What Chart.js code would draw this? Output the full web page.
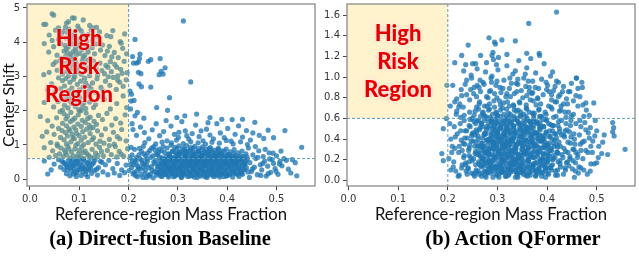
<!DOCTYPE html>
<html><head><meta charset="utf-8">
<script src="https://cdn.jsdelivr.net/npm/chart.js@4"></script>
<style>
html,body{margin:0;padding:0;background:#fff;width:639px;height:258px;overflow:hidden;position:relative;font-family:Lato,sans-serif}
canvas{position:absolute;top:0}
#ca{left:0}#cb{left:320px}
.risk{position:absolute;color:#e30000;font:900 22px Lato,"Liberation Sans",sans-serif;text-align:center;line-height:28px;text-shadow:0 0 2px #fff,0 0 5px rgba(255,190,190,.9)}
.ytitle{position:absolute;font:16px Lato,sans-serif;color:#111;transform:rotate(-90deg);transform-origin:center;white-space:nowrap;line-height:20px}
.cap{position:absolute;font:bold 20.5px "Liberation Serif","Times New Roman",serif;color:#000;white-space:nowrap;transform:translateX(-50%)}
</style></head><body>
<canvas id="ca" width="320" height="258"></canvas>
<canvas id="cb" width="319" height="258"></canvas>
<div class="risk" style="left:36px;top:24px;width:86px">High<br>Risk<br>Region</div>
<div class="risk" style="left:355px;top:19px;width:86px">High<br>Risk<br>Region</div>
<div class="ytitle" style="left:-40px;top:95px;width:96px;text-align:center">Center Shift</div>
<div class="cap" style="left:160px;top:227px">(a) Direct-fusion Baseline</div>
<div class="cap" style="left:513px;top:227px">(b) Action QFormer</div>
<script>
// ---- thresholds / ticks ----
const X_THRESH = 0.2;
const Y_THRESH = 0.6;
const xTicks = [0.0, 0.1, 0.2, 0.3, 0.4, 0.5];
const yTicksA = [0, 1, 2, 3, 4, 5];
const yTicksB = [0.0, 0.2, 0.4, 0.6, 0.8, 1.0, 1.2, 1.4, 1.6];
const xTitle = "Reference-region Mass Fraction";

// ---- (a) Direct-fusion Baseline: points ----
const baselineLeft = [
[.045,4.83],[.048,4.79],[.086,4.71],[.108,4.65],[.028,4.52],[.074,4.56],[.097,4.47],[.121,4.49],[.058,4.42],[.135,4.43],[.032,4.52],[.078,4.6],[.09,4.7],[.128,4.42],[.164,4.16],
[.052,4.35],[.067,4.31],[.079,4.38],[.091,4.27],[.104,4.33],[.118,4.22],[.061,4.18],[.073,4.12],[.085,4.21],[.096,4.09],[.11,4.15],[.127,4.05],[.141,4.3],[.156,4.19],[.168,4.34],[.039,4.21],[.045,4.05],[.082,4.02],[.064,4.25],[.099,4.39],[.115,4.02],[.133,4.16],[.076,4.28],[.088,4.14],[.183,4.02],[.192,4.24],[.058,4.08],[.107,4.22],[.072,4.43],[.124,4.36],
[.062,3.97],[.071,3.91],[.078,3.86],[.084,3.95],[.092,3.82],[.099,3.9],[.105,3.78],[.113,3.93],[.069,3.74],[.076,3.69],[.087,3.72],[.094,3.63],[.101,3.67],[.108,3.56],[.118,3.71],[.126,3.84],[.134,3.95],[.143,3.77],[.152,3.61],[.161,3.88],[.171,3.7],[.179,3.55],[.188,3.82],[.196,3.66],[.048,3.87],[.055,3.62],[.038,3.71],[.064,3.53],[.081,3.58],[.089,3.51],[.097,3.98],[.111,3.62],[.122,3.52],[.131,3.66],[.147,3.92],[.157,3.74],[.166,3.57],[.074,3.81],[.083,3.64],[.093,3.76],[.103,3.88],[.116,3.8],[.072,3.58],[.029,3.96],[.185,3.97],
[.061,3.46],[.068,3.38],[.077,3.44],[.085,3.33],[.093,3.41],[.101,3.28],[.109,3.36],[.117,3.47],[.125,3.31],[.134,3.22],[.142,3.39],[.151,3.08],[.158,3.27],[.165,3.14],[.172,3.35],[.178,3.02],[.184,3.21],[.191,3.44],[.197,3.11],[.047,3.35],[.039,3.12],[.028,3.05],[.055,3.18],[.066,3.07],[.074,3.15],[.082,3.21],[.089,3.04],[.097,3.13],[.104,3.06],[.113,3.18],[.121,3.02],[.129,3.45],[.146,3.17],[.163,3.43],[.176,3.27],[.187,3.09],[.072,3.29],[.086,3.49],[.095,3.24],[.106,3.46],[.052,3.42],[.137,3.04],[.154,3.32],[.118,3.25],[.078,3.01],
[.058,2.96],[.066,2.88],[.073,2.94],[.081,2.83],[.088,2.91],[.096,2.77],[.103,2.86],[.111,2.95],[.119,2.72],[.127,2.81],[.136,2.93],[.144,2.68],[.153,2.86],[.162,2.74],[.169,2.97],[.175,2.62],[.182,2.83],[.189,2.71],[.195,2.9],[.044,2.78],[.036,2.61],[.051,2.55],[.062,2.64],[.07,2.72],[.078,2.58],[.085,2.66],[.093,2.52],[.1,2.61],[.108,2.69],[.116,2.56],[.124,2.64],[.133,2.53],[.148,2.57],[.159,2.99],[.067,2.51],[.091,2.99],[.113,2.81],[.178,2.89],
[.064,2.47],[.072,2.41],[.079,2.35],[.087,2.44],[.094,2.29],[.101,2.38],[.109,2.22],[.116,2.46],[.124,2.31],[.133,2.18],[.141,2.42],[.07,2.16],[.077,2.08],[.085,2.21],[.092,2.12],[.099,2.03],[.106,2.14],[.113,2.06],[.121,2.25],[.057,2.27],[.048,2.11],[.151,2.34],[.163,2.05],[.176,2.21],[.189,2.43],[.196,2.09],[.081,2.28],[.096,2.49],[.104,2.01],[.129,2.09],[.066,2.02],[.029,2.24],
[.061,1.97],[.069,1.91],[.076,1.84],[.083,1.95],[.091,1.78],[.098,1.88],[.106,1.72],[.114,1.93],[.122,1.81],[.13,1.69],[.139,1.86],[.147,1.74],[.066,1.63],[.074,1.56],[.082,1.68],[.089,1.52],[.097,1.61],[.104,1.54],[.112,1.66],[.12,1.58],[.128,1.51],[.054,1.79],[.045,1.55],[.036,1.71],[.021,1.83],[.156,1.92],[.166,1.58],[.174,1.77],[.184,1.64],[.193,1.88],[.087,1.73],[.101,1.99],[.117,1.77],[.073,1.76],[.135,1.6],
[.058,1.48],[.065,1.42],[.072,1.36],[.079,1.47],[.086,1.31],[.093,1.44],[.1,1.27],[.107,1.39],[.115,1.46],[.122,1.33],[.129,1.21],[.137,1.41],[.145,1.29],[.153,1.47],[.161,1.16],[.169,1.37],[.177,1.24],[.186,1.45],[.195,1.12],[.062,1.22],[.069,1.15],[.076,1.26],[.083,1.09],[.09,1.18],[.097,1.04],[.104,1.14],[.111,1.23],[.118,1.07],[.126,1.15],[.134,1.02],[.142,1.11],[.049,1.31],[.042,1.07],[.034,1.38],[.025,1.25],[.055,1.02],[.081,1.41],[.095,1.33],[.109,1.01],[.123,1.49],[.15,1.05],[.171,1.02],[.182,1.18],[.074,1.03],[.087,1.21],
[.056,.97],[.063,.91],[.07,.85],[.077,.96],[.084,.79],[.091,.88],[.098,.73],[.105,.94],[.112,.82],[.119,.69],[.126,.87],[.133,.76],[.141,.93],[.149,.68],[.157,.84],[.165,.72],[.173,.95],[.181,.81],[.19,.67],[.198,.89],[.06,.74],[.067,.66],[.074,.71],[.081,.62],[.088,.68],[.095,.63],[.102,.66],[.109,.61],[.116,.74],[.123,.64],[.13,.63],[.138,.69],[.046,.83],[.039,.64],[.029,.92],[.052,.69],[.079,.88],[.093,.99],[.108,.78],[.145,.81],[.161,.98],[.176,.65],[.185,.73],[.072,.78],[.1,.84],
[.058,.57],[.065,.52],[.071,.45],[.078,.55],[.084,.48],[.09,.41],[.096,.53],[.102,.46],[.108,.58],[.114,.38],[.12,.51],[.126,.43],[.132,.56],[.139,.34],[.146,.49],[.153,.42],[.16,.55],[.168,.31],[.177,.46],[.186,.27],[.195,.41],[.062,.35],[.069,.28],[.076,.36],[.083,.24],[.089,.31],[.095,.19],[.101,.29],[.107,.22],[.113,.14],[.119,.27],[.125,.17],[.131,.25],[.137,.12],[.074,.16],[.081,.1],[.088,.15],[.094,.08],[.104,.11],[.111,.3],[.117,.07],[.049,.44],[.043,.27],[.036,.15],[.029,.53],[.148,.21],[.158,.13],[.171,.18],[.182,.11],[.192,.19],[.086,.39],[.099,.36],[.068,.49],[.123,.31],[.143,.52],
[.08,.44],[.092,.5],[.105,.4],[.117,.47],[.087,.56],[.1,.58],[.111,.52],[.076,.29],[.097,.26],[.083,.34],[.107,.33],[.121,.38],[.091,.21],[.114,.24],[.129,.48],[.073,.42],[.095,.45],[.135,.29]
];
const baselineRight = [
[.311,4.62],[.213,4.08],[.208,3.58],[.223,3.65],[.21,3.39],[.216,3.39],[.22,3.42],[.222,3.52],[.24,3.44],[.245,3.49],[.264,3.52],[.22,3.12],[.225,3.08],[.262,3.05],[.266,3.15],[.27,3.07],[.274,3.25],[.326,2.84],[.221,2.78],[.226,2.7],[.245,2.69],[.206,2.48],[.203,2.57],[.283,2.38],[.205,2.28],[.211,2.3],[.257,2.09],[.279,2.01],[.231,1.78],[.298,1.8],[.314,1.85],[.338,1.9],[.365,1.8],[.389,1.75],[.431,1.75],[.213,1.85],[.207,1.62],[.218,1.95],[.204,2.05],
[.209,1.45],[.216,1.28],[.224,1.52],[.232,1.36],[.241,1.18],[.248,1.44],[.256,1.62],[.263,1.27],[.271,1.39],[.278,1.12],[.286,1.55],[.293,1.31],[.301,1.22],[.308,1.68],[.315,1.41],[.322,1.17],[.329,1.33],[.336,1.58],[.343,1.24],[.351,1.12],[.358,1.46],[.365,1.29],[.372,1.18],[.379,1.62],[.386,1.35],[.394,1.21],[.401,1.48],[.408,1.11],[.416,1.31],[.423,1.56],[.431,1.23],[.439,1.42],[.447,1.14],[.456,1.66],[.465,1.28],[.474,1.19],[.483,1.43],[.494,1.21],[.517,1.42],[.287,1.06],[.297,1.14],[.311,1.04],[.326,1.09],[.341,1.06],[.356,1.02],[.369,1.08],[.384,1.05],[.398,1.13],[.412,1.03],[.427,1.09],[.441,1.01],[.268,1.08],[.255,1.03],[.233,1.07],[.302,1.37],[.347,1.41],[.276,1.71],[.361,1.65],[.452,1.35],[.318,1.27],[.41,1.74],
[.262,.88],[.259,.71],[.264,.55],[.261,.43],[.266,.31],[.258,.19],[.263,.64],[.265,.09],
[.27,.95],[.273,.78],[.268,.62],[.271,.49],[.274,.37],[.269,.26],[.272,.14],[.267,.83],[.275,.41],
[.278,.91],[.281,.74],[.276,.58],[.279,.46],[.282,.34],[.277,.22],[.28,.11],[.283,.67],[.276,.52],[.281,.29],
[.286,.99],[.289,.82],[.284,.66],[.287,.53],[.29,.41],[.285,.28],[.288,.17],[.291,.07],[.284,.6],[.289,.36],
[.294,.93],[.297,.77],[.292,.61],[.295,.48],[.298,.35],[.293,.24],[.296,.13],[.299,.7],[.292,.44],[.297,.56],
[.302,.97],[.305,.8],[.3,.64],[.303,.51],[.306,.39],[.301,.27],[.304,.15],[.307,.06],[.3,.58],[.305,.33],[.302,.73],
[.31,.9],[.313,.75],[.308,.59],[.311,.47],[.314,.36],[.309,.23],[.312,.12],[.315,.68],[.308,.42],[.313,.54],[.31,.18],
[.318,.98],[.321,.83],[.316,.67],[.319,.52],[.322,.4],[.317,.3],[.32,.2],[.323,.09],[.316,.61],[.321,.46],[.318,.76],
[.326,.92],[.329,.73],[.324,.57],[.327,.45],[.33,.32],[.325,.21],[.328,.1],[.331,.65],[.324,.5],[.329,.38],[.326,.85],
[.334,.96],[.337,.79],[.332,.63],[.335,.49],[.338,.37],[.333,.25],[.336,.14],[.339,.05],[.332,.56],[.337,.43],[.334,.7],
[.342,.89],[.345,.72],[.34,.6],[.343,.48],[.346,.35],[.341,.23],[.344,.12],[.347,.66],[.34,.53],[.345,.29],[.342,.81],
[.35,.94],[.353,.77],[.348,.62],[.351,.5],[.354,.39],[.349,.27],[.352,.16],[.355,.07],[.348,.57],[.353,.44],[.35,.69],
[.358,.87],[.361,.7],[.356,.55],[.359,.46],[.362,.34],[.357,.22],[.36,.11],[.363,.63],[.356,.4],[.361,.78],[.358,.51],
[.366,.92],[.369,.75],[.364,.59],[.367,.47],[.37,.36],[.365,.24],[.368,.13],[.371,.67],[.364,.53],[.369,.3],
[.374,.85],[.377,.69],[.372,.56],[.375,.43],[.378,.31],[.373,.19],[.376,.09],[.379,.62],[.372,.49],[.377,.77],
[.382,.9],[.385,.73],[.38,.58],[.383,.45],[.386,.33],[.381,.21],[.384,.12],[.387,.66],[.38,.52],[.385,.38],
[.39,.83],[.393,.67],[.388,.54],[.391,.41],[.394,.28],[.389,.17],[.392,.6],[.395,.47],[.388,.74],[.393,.08],
[.398,.88],[.401,.71],[.396,.57],[.399,.44],[.402,.32],[.397,.2],[.4,.11],[.403,.64],[.396,.5],
[.406,.8],[.409,.65],[.404,.52],[.407,.39],[.41,.27],[.405,.15],[.408,.59],[.411,.46],[.404,.72],
[.414,.86],[.417,.69],[.412,.55],[.415,.42],[.418,.3],[.413,.18],[.416,.61],[.419,.48],
[.422,.77],[.425,.62],[.42,.5],[.423,.37],[.426,.25],[.421,.14],[.424,.56],[.427,.68],
[.43,.82],[.433,.66],[.428,.53],[.431,.4],[.434,.28],[.429,.17],[.432,.6],[.435,.45],
[.438,.74],[.441,.58],[.436,.46],[.439,.33],[.442,.21],[.437,.52],[.44,.65],
[.203,.62],[.206,.34],[.209,.15],[.212,.87],[.215,.48],[.218,.07],[.221,.71],[.224,.29],[.227,.55],[.23,.96],[.233,.18],[.236,.41],[.239,.77],[.242,.09],[.245,.63],[.248,.26],[.251,.5],[.254,.85],[.257,.12],[.26,.38],[.205,.93],[.211,.42],[.217,.24],[.223,.59],[.229,.05],[.235,.68],[.241,.33],[.247,.91],[.253,.45],[.259,.2],[.208,.53],[.214,.11],[.226,.81],[.238,.52],[.25,.04],[.256,.73],[.232,.44],[.244,.15],[.219,.38],[.201,.25],
[.204,.44],[.207,.71],[.211,.2],[.216,.63],[.22,.33],[.225,.14],[.228,.47],[.231,.74],[.234,.27],[.237,.58],[.24,.12],[.243,.84],[.246,.37],[.249,.68],[.252,.21],[.255,.55],[.258,.31],[.261,.79],[.264,.16],[.267,.45],[.222,.9],[.236,.05],[.251,.95],[.213,.56],[.229,.35],
[.443,.91],[.446,.48],[.449,.22],[.452,.71],[.455,.35],[.458,.6],[.461,.13],[.464,.83],[.467,.42],[.47,.27],[.473,.66],[.476,.53],[.479,.09],[.482,.38],[.485,.77],[.488,.2],[.491,.57],[.494,.46],[.497,.31],[.5,.68],[.503,.14],[.507,.52],[.511,.39],[.515,.6],[.52,.55],[.524,.29],[.532,.57],[.538,.48],[.541,.1],[.551,.93],[.493,.76],[.445,.05],[.457,.95],[.468,.11],[.477,.87],[.486,.59],[.499,.23],[.509,.82],[.462,.64],[.451,.3],[.472,.46],[.483,.16],[.529,.18],[.506,.44]
];
const baselineCoreFill = [
[.268,.08],[.281,.06],[.294,.09],[.307,.05],[.32,.08],[.333,.06],[.346,.09],[.359,.05],[.372,.08],[.385,.06],[.398,.09],[.411,.06],[.424,.08],
[.262,.16],[.275,.14],[.288,.17],[.301,.13],[.314,.16],[.327,.14],[.34,.17],[.353,.13],[.366,.16],[.379,.14],[.392,.17],[.405,.13],[.418,.16],[.431,.14],
[.271,.23],[.284,.21],[.297,.24],[.31,.2],[.323,.23],[.336,.21],[.349,.24],[.362,.2],[.375,.23],[.388,.21],[.401,.24],[.414,.2],[.427,.23],
[.266,.3],[.279,.28],[.292,.31],[.305,.27],[.318,.3],[.331,.28],[.344,.31],[.357,.27],[.37,.3],[.383,.28],[.396,.31],[.409,.27],[.422,.3],[.435,.28],
[.273,.37],[.286,.35],[.299,.38],[.312,.34],[.325,.37],[.338,.35],[.351,.38],[.364,.34],[.377,.37],[.39,.35],[.403,.38],[.416,.34],[.429,.37],
[.267,.44],[.28,.42],[.293,.45],[.306,.41],[.319,.44],[.332,.42],[.345,.45],[.358,.41],[.371,.44],[.384,.42],[.397,.45],[.41,.41],[.423,.44],[.436,.42],
[.274,.51],[.287,.49],[.3,.52],[.313,.48],[.326,.51],[.339,.49],[.352,.52],[.365,.48],[.378,.51],[.391,.49],[.404,.52],[.417,.48],[.43,.51],
[.269,.58],[.282,.56],[.295,.59],[.308,.55],[.321,.58],[.334,.56],[.347,.59],[.36,.55],[.373,.58],[.386,.56],[.399,.59],[.412,.55],[.425,.58],
[.276,.65],[.289,.63],[.302,.66],[.315,.62],[.328,.65],[.341,.63],[.354,.66],[.367,.62],[.38,.65],[.393,.63],[.406,.66],[.419,.62],
[.283,.73],[.296,.71],[.309,.74],[.322,.7],[.335,.73],[.348,.71],[.361,.74],[.374,.7],[.387,.73],[.4,.71],[.413,.74],
[.29,.81],[.303,.79],[.316,.82],[.329,.78],[.342,.81],[.355,.79],[.368,.82],[.381,.78],[.394,.81],
[.298,.89],[.313,.87],[.331,.9],[.349,.86],[.364,.89],[.382,.87]
];

// ---- (b) Action QFormer: points ----
const qformerCore = [
[.215,.42],[.212,.18],[.218,.67],[.216,.09],[.214,.31],
[.225,.55],[.222,.27],[.228,.12],[.224,.74],[.227,.39],[.223,.05],[.226,.61],
[.235,.48],[.232,.22],[.238,.83],[.234,.35],[.237,.09],[.233,.63],[.236,.15],[.239,.41],[.231,.71],
[.245,.52],[.242,.29],[.248,.07],[.244,.66],[.247,.38],[.243,.18],[.246,.88],[.249,.45],[.241,.11],[.245,.59],[.243,.24],
[.255,.44],[.252,.21],[.258,.71],[.254,.33],[.257,.08],[.253,.57],[.256,.15],[.259,.92],[.251,.38],[.255,.26],[.253,.63],[.257,.49],[.254,.04],
[.265,.51],[.262,.28],[.268,.13],[.264,.76],[.267,.36],[.263,.06],[.266,.62],[.269,.19],[.261,.43],[.265,.97],[.263,.33],[.267,.55],[.264,.24],[.262,.69],
[.275,.46],[.272,.23],[.278,.81],[.274,.31],[.277,.09],[.273,.58],[.276,.17],[.279,.39],[.271,.66],[.275,.05],[.273,.27],[.277,.52],[.274,.72],[.272,.14],[.276,1.05],
[.285,.53],[.282,.3],[.288,.12],[.284,.74],[.287,.41],[.283,.2],[.286,.87],[.289,.35],[.281,.07],[.285,.61],[.283,.25],[.287,.46],[.284,.16],[.282,.68],[.286,.38],[.288,.95],
[.295,.43],[.292,.19],[.298,.65],[.294,.34],[.297,.06],[.293,.56],[.296,.27],[.299,.8],[.291,.14],[.295,.48],[.293,.37],[.297,.1],[.294,.71],[.292,.23],[.296,.59],[.298,1.12],
[.305,.5],[.302,.26],[.308,.11],[.304,.77],[.307,.39],[.303,.03],[.306,.62],[.309,.21],[.301,.45],[.305,.9],[.303,.32],[.307,.16],[.304,.57],[.302,.29],[.306,.68],[.308,.08],[.301,.41],
[.315,.47],[.312,.22],[.318,.69],[.314,.36],[.317,.09],[.313,.55],[.316,.17],[.319,.84],[.311,.31],[.315,.42],[.313,.13],[.317,.61],[.314,.26],[.312,.75],[.316,.04],[.318,.51],[.311,.35],
[.325,.54],[.322,.28],[.328,.14],[.324,.72],[.327,.4],[.323,.06],[.326,.64],[.329,.2],[.321,.49],[.325,.99],[.323,.33],[.327,.11],[.324,.58],[.322,.24],[.326,.81],[.328,.45],[.321,.37],
[.335,.45],[.332,.21],[.338,.67],[.334,.32],[.337,.08],[.333,.53],[.336,.16],[.339,.86],[.331,.38],[.335,.27],[.333,.6],[.337,.12],[.334,.47],[.332,.73],[.336,.03],[.338,.34],
[.345,.51],[.342,.25],[.348,.1],[.344,.76],[.347,.42],[.343,.18],[.346,.63],[.349,.3],[.341,.93],[.345,.55],[.343,.07],[.347,.36],[.344,.22],[.342,.68],[.346,.46],[.348,.14],
[.355,.44],[.352,.19],[.358,.7],[.354,.35],[.357,.05],[.353,.58],[.356,.27],[.359,.82],[.351,.13],[.355,.48],[.353,.39],[.357,.62],[.354,.09],[.352,.24],[.356,1.03],
[.365,.52],[.362,.26],[.368,.12],[.364,.66],[.367,.37],[.363,.2],[.366,.78],[.369,.43],[.361,.06],[.365,.57],[.363,.31],[.367,.15],[.364,.9],[.362,.47],[.366,.23],
[.375,.46],[.372,.22],[.378,.73],[.374,.33],[.377,.09],[.373,.6],[.376,.17],[.379,.41],[.371,.85],[.375,.28],[.373,.53],[.377,.04],[.374,.65],[.372,.37],
[.385,.5],[.382,.27],[.388,.14],[.384,.69],[.387,.38],[.383,.07],[.386,.56],[.389,.21],[.381,.79],[.385,.44],[.383,.32],[.387,.61],[.384,.11],
[.395,.43],[.392,.2],[.398,.64],[.394,.34],[.397,.1],[.393,.52],[.396,.26],[.399,.88],[.391,.41],[.395,.16],[.393,.59],[.397,.03],
[.405,.48],[.402,.24],[.408,.71],[.404,.36],[.407,.12],[.403,.55],[.406,.29],[.409,.83],[.401,.18],[.405,.42],[.403,.06],
[.415,.45],[.412,.21],[.418,.62],[.414,.33],[.417,.09],[.413,.53],[.416,.76],[.419,.27],[.411,.15],[.415,.39],
[.425,.5],[.422,.26],[.428,.68],[.424,.37],[.427,.13],[.423,.57],[.426,.19],[.429,.44],[.421,.05],
[.435,.42],[.432,.22],[.438,.61],[.434,.31],[.437,.1],[.433,.74],[.436,.48],[.439,.17],
[.445,.47],[.442,.27],[.448,.58],[.444,.14],[.447,.36],[.443,.66],[.446,.21],
[.455,.4],[.452,.19],[.458,.55],[.454,.3],[.457,.09],[.453,.64],
[.465,.44],[.462,.25],[.468,.52],[.464,.13],[.467,.35],
[.475,.38],[.472,.21],[.478,.49],[.474,.1],
[.485,.41],[.482,.27],[.488,.33]
];
const qformerDense = [
[.26,.33],[.262,.18],[.258,.47],[.261,.09],[.259,.58],[.263,.26],
[.27,.41],[.272,.16],[.268,.55],[.271,.29],[.269,.07],[.273,.63],[.27,.36],[.267,.22],
[.28,.34],[.282,.11],[.278,.49],[.281,.24],[.279,.6],[.283,.4],[.28,.17],[.277,.03],[.282,.28],
[.29,.45],[.292,.2],[.288,.57],[.291,.31],[.289,.09],[.293,.38],[.29,.64],[.287,.15],[.292,.52],
[.3,.37],[.302,.13],[.298,.5],[.301,.23],[.299,.61],[.303,.42],[.3,.05],[.297,.31],[.302,.19],[.298,.56],
[.31,.43],[.312,.18],[.308,.54],[.311,.28],[.309,.08],[.313,.64],[.31,.35],[.307,.24],[.312,.49],[.308,.12],
[.32,.36],[.322,.1],[.318,.47],[.321,.25],[.319,.59],[.323,.17],[.32,.4],[.317,.31],[.322,.05],[.318,.53],
[.33,.41],[.332,.19],[.328,.56],[.331,.29],[.329,.1],[.333,.62],[.33,.36],[.327,.24],[.332,.49],[.328,.15],
[.34,.35],[.342,.12],[.338,.48],[.341,.22],[.339,.6],[.343,.39],[.34,.05],[.337,.28],[.342,.55],[.338,.17],
[.35,.42],[.352,.17],[.348,.53],[.351,.3],[.349,.08],[.353,.64],[.35,.37],[.347,.24],[.352,.48],
[.36,.34],[.362,.13],[.358,.5],[.361,.24],[.359,.58],[.363,.4],[.36,.04],[.357,.29],[.362,.19],
[.37,.4],[.372,.16],[.368,.55],[.371,.27],[.369,.09],[.373,.63],[.37,.35],[.367,.47],
[.38,.33],[.382,.11],[.378,.46],[.381,.23],[.379,.57],[.383,.38],[.38,.18],[.377,.05],
[.39,.39],[.392,.15],[.388,.52],[.391,.26],[.389,.62],[.393,.32],[.39,.08],
[.4,.35],[.402,.2],[.398,.47],[.401,.12],[.399,.58],[.403,.28],
[.41,.4],[.412,.24],[.408,.31],[.411,.53],[.409,.1],
[.42,.34],[.422,.18],[.418,.45],[.421,.27]
];
const qformerFill = [
[.252,.06],[.268,.04],[.279,.08],[.291,.03],[.306,.07],[.318,.04],[.327,.08],[.341,.03],[.352,.06],[.366,.05],[.378,.08],[.389,.04],[.401,.07],[.417,.05],[.433,.06],
[.241,.12],[.257,.1],[.266,.14],[.284,.11],[.297,.13],[.309,.09],[.323,.12],[.336,.1],[.344,.14],[.359,.11],[.371,.13],[.384,.09],[.396,.12],[.408,.14],[.421,.1],[.436,.12],[.451,.11],
[.236,.17],[.249,.19],[.263,.16],[.274,.2],[.288,.18],[.299,.15],[.313,.19],[.326,.17],[.338,.2],[.347,.16],[.362,.18],[.374,.15],[.387,.19],[.399,.17],[.411,.2],[.426,.16],[.441,.18],[.457,.17],
[.233,.24],[.246,.22],[.259,.25],[.271,.21],[.283,.26],[.294,.23],[.306,.25],[.317,.21],[.331,.24],[.343,.22],[.355,.26],[.368,.23],[.379,.25],[.392,.21],[.404,.24],[.416,.22],[.43,.25],[.446,.23],[.461,.22],
[.229,.29],[.243,.31],[.256,.28],[.268,.32],[.279,.27],[.291,.3],[.303,.28],[.314,.32],[.325,.29],[.337,.31],[.349,.27],[.361,.3],[.372,.32],[.385,.28],[.397,.31],[.409,.29],[.421,.32],[.437,.28],[.452,.3],[.468,.29],
[.231,.36],[.244,.34],[.257,.37],[.269,.33],[.281,.38],[.292,.35],[.304,.37],[.315,.34],[.327,.38],[.339,.35],[.351,.33],[.363,.37],[.376,.35],[.388,.38],[.401,.34],[.413,.36],[.427,.33],[.442,.37],[.456,.35],
[.234,.41],[.248,.43],[.261,.4],[.273,.44],[.286,.39],[.297,.42],[.309,.4],[.321,.44],[.333,.41],[.346,.43],[.357,.39],[.369,.42],[.382,.44],[.394,.4],[.406,.43],[.419,.41],[.434,.44],[.448,.42],
[.238,.48],[.251,.46],[.264,.49],[.277,.45],[.289,.5],[.301,.47],[.312,.45],[.324,.49],[.336,.46],[.348,.5],[.36,.47],[.373,.45],[.386,.49],[.398,.46],[.411,.48],[.425,.47],[.44,.49],
[.243,.53],[.256,.55],[.269,.52],[.282,.56],[.294,.53],[.306,.51],[.319,.55],[.331,.52],[.343,.56],[.356,.53],[.368,.51],[.381,.55],[.393,.52],[.407,.54],[.422,.53],[.438,.55],
[.249,.6],[.262,.58],[.276,.62],[.288,.59],[.3,.63],[.311,.58],[.323,.61],[.335,.59],[.347,.62],[.36,.6],[.372,.57],[.385,.62],[.398,.59],[.413,.61],[.429,.58],
[.255,.67],[.27,.65],[.284,.69],[.297,.66],[.31,.7],[.322,.65],[.334,.68],[.347,.66],[.359,.69],[.371,.65],[.383,.68],[.396,.66],[.41,.69],[.425,.67],
[.263,.74],[.279,.72],[.293,.77],[.306,.73],[.32,.76],[.333,.72],[.345,.75],[.358,.73],[.372,.77],[.387,.74],[.403,.72],[.419,.76],
[.274,.09],[.287,.07],[.3,.1],[.313,.08],[.326,.1],[.339,.07],[.352,.09],[.365,.08],[.378,.1],[.391,.07],
[.28,.14],[.293,.12],[.306,.15],[.319,.13],[.332,.15],[.345,.12],[.358,.14],[.371,.13],[.384,.15],[.397,.12],
[.27,.21],[.283,.19],[.296,.22],[.309,.2],[.322,.22],[.335,.19],[.348,.21],[.361,.2],[.374,.22],[.387,.19],[.4,.21],
[.276,.27],[.289,.25],[.302,.28],[.315,.26],[.328,.28],[.341,.25],[.354,.27],[.367,.26],[.38,.28],[.393,.25],
[.272,.33],[.285,.31],[.298,.34],[.311,.32],[.324,.34],[.337,.31],[.35,.33],[.363,.32],[.376,.34],[.389,.31],[.402,.33],
[.278,.39],[.291,.37],[.304,.4],[.317,.38],[.33,.4],[.343,.37],[.356,.39],[.369,.38],[.382,.4],[.395,.37],
[.274,.45],[.287,.43],[.3,.46],[.313,.44],[.326,.46],[.339,.43],[.352,.45],[.365,.44],[.378,.46],[.391,.43],
[.281,.51],[.294,.49],[.307,.52],[.32,.5],[.333,.52],[.346,.49],[.359,.51],[.372,.5],[.385,.52],
[.288,.57],[.301,.55],[.314,.58],[.327,.56],[.34,.58],[.353,.55],[.366,.57],[.379,.56]
];
const qformerOuter = [
[.238,.97],[.247,1.02],[.252,.84],[.259,1.08],[.263,.9],[.271,.95],[.278,1.14],[.284,.86],[.289,1.01],[.297,.92],[.301,1.07],[.307,.85],[.313,.97],[.319,1.11],[.324,.89],[.331,1.03],[.338,.94],[.343,1.16],[.348,.87],[.353,.99],[.359,1.09],[.364,.86],[.371,.96],[.377,1.04],[.383,.89],[.389,.98],[.394,1.13],[.401,.92],[.407,1.01],[.413,.87],[.419,.96],[.426,.83],[.433,.91],[.439,.79],[.446,.86],[.453,.77],[.459,.99],[.466,.81],[.472,.73],[.479,.68],[.302,1.19],[.336,1.06],[.367,1.18],[.292,1.17],[.256,1.13],[.227,.88],[.218,.79],[.232,1.06],[.411,1.05],[.385,1.21],
[.419,1.63],[.363,1.52],[.283,1.38],[.294,1.34],[.296,1.32],[.309,1.36],[.336,1.35],[.241,1.31],[.384,1.23],[.359,1.23],[.291,1.24],[.289,1.21],[.319,1.22],[.228,1.21],[.266,1.21],[.214,1.14],[.236,1.12],[.25,1.13],[.459,.99],[.47,.95],[.423,.95],[.443,.86],[.462,.89],[.478,.75],[.494,.75],[.462,.72],[.487,.51],[.5,.48],[.532,.56],[.534,.51],[.557,.3],[.532,.47],[.535,.43],[.51,.26],[.5,.17],[.488,.16],[.495,.16],[.198,.92],[.21,.92],[.191,.5],[.188,.26],[.191,.19],[.197,.6],[.206,.4],
[.492,.38],[.504,.33],[.515,.44],[.497,.58],[.485,.63],[.476,.56],[.468,.12],[.481,.06],[.455,.03],[.512,.37],[.522,.25],[.206,.1],[.202,.21],[.209,.33],[.213,.52],[.217,.64],[.222,.71],[.205,.72],[.229,.15],
[.204,.55],[.208,.27],[.211,.13],[.214,.76],[.219,.45],[.221,.04],[.223,.33],[.226,.48],[.228,.82],[.233,.58],[.235,.93],[.239,.06],[.244,.78],[.248,.99],[.253,.9],[.258,.81],[.266,.86],[.273,.93],[.281,.8],[.287,.99],[.294,.84],[.299,.96],[.311,.89],[.317,.81],[.328,.94],[.334,.84],[.341,.98],[.351,.8],[.357,.91],[.362,.96],[.369,.84],[.376,.9],[.381,.8],[.392,.83],[.398,.95],[.404,.86],[.409,.78],[.416,.91],[.423,.81],[.428,.72],[.431,.86],[.436,.66],[.441,.74],[.447,.53],[.449,.62],[.454,.45],[.458,.27],[.463,.07],[.466,.58],[.471,.37],[.474,.62],[.478,.29],[.483,.46],[.487,.09],[.491,.27],[.496,.43],[.503,.22],[.458,.82],[.471,.9],[.449,.94]
];

const toXY = arr => arr.map(p => ({x: p[0], y: p[1]}));
const POINT = 'rgba(31,119,180,0.78)';

const overlay = {
  id: 'overlay',
  afterDatasetsDraw(chart) {
    const {ctx, chartArea: a, scales: {x, y}} = chart;
    const xT = x.getPixelForValue(X_THRESH), yT = y.getPixelForValue(Y_THRESH);
    ctx.save();
    ctx.fillStyle = 'rgba(255,207,55,0.25)';
    ctx.fillRect(a.left, a.top, xT - a.left, yT - a.top);
    ctx.strokeStyle = '#5b9cb8'; ctx.lineWidth = 1; ctx.setLineDash([3, 2]);
    ctx.beginPath();
    ctx.moveTo(xT, a.top); ctx.lineTo(xT, a.bottom);
    ctx.moveTo(a.left, yT); ctx.lineTo(a.right, yT);
    ctx.stroke();
    ctx.setLineDash([]);
    ctx.strokeStyle = '#8a8a8a'; ctx.lineWidth = 1.3;
    ctx.strokeRect(a.left, a.top, a.right - a.left, a.bottom - a.top);
    ctx.restore();
  }
};

function zeroPad(s) { s.paddingTop = 0; s.paddingBottom = 0; s.paddingLeft = 0; s.paddingRight = 0; }

function makeChart(id, datasets, xr, yr, yTicks, yDec, padRight) {
  const tickFont = {family: '"DejaVu Sans"', size: 10};
  return new Chart(document.getElementById(id), {
    type: 'scatter',
    data: {datasets: datasets.map(d => ({data: toXY(d), backgroundColor: POINT, pointRadius: 2.6, borderWidth: 0}))},
    options: {
      responsive: false, animation: false, devicePixelRatio: 1, events: [],
      layout: {padding: {top: 2, right: padRight, left: 0, bottom: 0}},
      plugins: {legend: {display: false}, tooltip: {enabled: false}},
      scales: {
        x: {
          type: 'linear', min: xr[0], max: xr[1],
          afterBuildTicks: s => { s.ticks = xTicks.map(v => ({value: v})); },
          afterFit: s => { s.height = 72; zeroPad(s); },
          ticks: {font: tickFont, color: '#333', padding: 3, maxRotation: 0, callback: v => v.toFixed(1)},
          grid: {drawOnChartArea: false, drawTicks: true, tickLength: 4, color: '#444'},
          border: {display: false},
          title: {display: true, text: xTitle, font: {family: 'Lato', size: 16.7, lineHeight: 1.2}, color: '#111', padding: {top: 0, bottom: 33}}
        },
        y: {
          type: 'linear', min: yr[0], max: yr[1],
          afterBuildTicks: s => { s.ticks = yTicks.map(v => ({value: v})); },
          afterFit: s => { s.width = 27; zeroPad(s); },
          ticks: {font: tickFont, color: '#333', padding: 3, callback: v => v.toFixed(yDec)},
          grid: {drawOnChartArea: false, drawTicks: true, tickLength: 4, color: '#444'},
          border: {display: false}
        }
      }
    },
    plugins: [overlay]
  });
}

makeChart('ca', [baselineLeft, baselineRight, baselineCoreFill], [-0.006, 0.578], [-0.2, 5.115], yTicksA, 0, 5);
makeChart('cb', [qformerCore, qformerDense, qformerFill, qformerOuter], [-0.003, 0.577], [-0.055, 1.708], yTicksB, 1, 4);
</script>
</body></html>
